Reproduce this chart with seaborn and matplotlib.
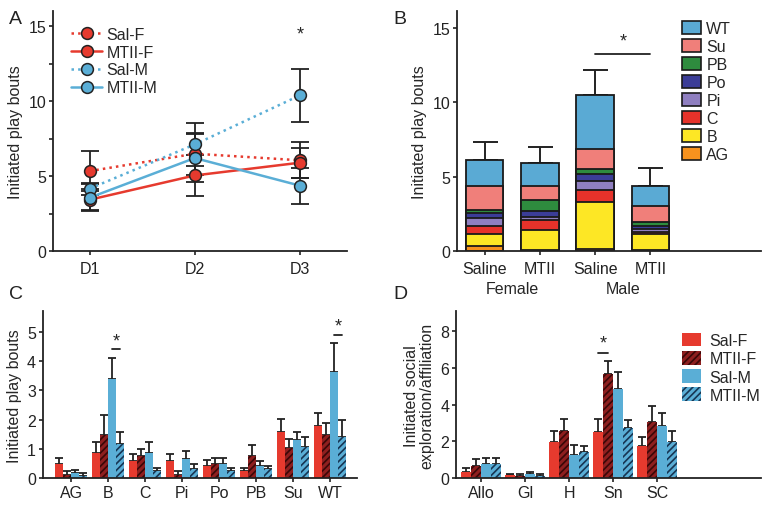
import numpy as np
import pandas as pd
import matplotlib
matplotlib.use('Agg')
import matplotlib.pyplot as plt
import seaborn as sns
from matplotlib.patches import Patch
from matplotlib.lines import Line2D
from matplotlib.ticker import MultipleLocator

sns.set_theme(style='ticks')
plt.rcParams['font.family'] = ['Liberation Sans', 'DejaVu Sans']
plt.rcParams['axes.linewidth'] = 1.3
plt.rcParams['hatch.linewidth'] = 1.2

RED = '#e63a2e'
BLUE = '#5aaed6'
DRED = '#8e1f1f'
NAVY = '#173553'

# ---- panel A data: play bouts over days
days = ['D1', 'D2', 'D3']
groups = ['Sal-F', 'MTII-F', 'Sal-M', 'MTII-M']
salf_mean = [5.33, 6.49, 6.05]
salf_err = [1.35, 1.4, 1.2]
mtiif_mean = [3.42, 5.04, 5.89]
mtiif_err = [0.7, 1.35, 1.0]
salm_mean = [4.16, 7.11, 10.38]
salm_err = [0.4, 1.42, 1.78]
mtiim_mean = [3.56, 6.2, 4.36]
mtiim_err = [0.9, 1.6, 1.2]

# ---- panel B data: stacked play types
treat_labels = ['Saline', 'MTII', 'Saline', 'MTII']
play_types = ['AG', 'B', 'C', 'Pi', 'Po', 'PB', 'Su', 'WT']
stack_salf = [0.36, 0.76, 0.54, 0.56, 0.36, 0.18, 1.59, 1.77]
stack_mtiif = [0.05, 1.38, 0.67, 0.16, 0.41, 0.76, 0.96, 1.53]
stack_salm = [0.15, 3.17, 0.78, 0.63, 0.45, 0.33, 1.35, 3.64]
stack_mtiim = [0.05, 1.07, 0.14, 0.22, 0.22, 0.27, 1.03, 1.39]
stack_err_top = [7.31, 6.97, 12.15, 5.56]
play_colors = ['#f7921e', '#fde725', '#e6322a', '#8f7fc0', '#3b3d97', '#2e8b3e', '#f07f7a', '#5aaad4']

# ---- panel C data: play types by group (mean, mean+sem)
c_salf = [0.5, 0.86, 0.58, 0.57, 0.40, 0.23, 1.59, 1.77]
c_salf_hi = [0.7, 1.24, 0.84, 0.84, 0.61, 0.35, 2.03, 2.23]
c_mtiif = [0.11, 1.49, 0.77, 0.11, 0.47, 0.76, 1.03, 1.49]
c_mtiif_hi = [0.24, 2.15, 1.01, 0.24, 0.70, 1.14, 1.34, 1.88]
c_salm = [0.16, 3.37, 0.86, 0.67, 0.48, 0.41, 1.30, 3.62]
c_salm_hi = [0.27, 4.09, 1.24, 0.94, 0.69, 0.58, 1.59, 4.60]
c_mtiim = [0.09, 1.18, 0.26, 0.32, 0.25, 0.32, 1.05, 1.39]
c_mtiim_hi = [0.19, 1.59, 0.36, 0.47, 0.36, 0.43, 1.40, 2.00]

# ---- panel D data: social exploration
social = ['Allo', 'Gl', 'H', 'Sn', 'SC']
d_salf = [0.36, 0.16, 1.95, 2.53, 1.76]
d_salf_hi = [0.56, 0.25, 2.55, 3.25, 2.27]
d_mtiif = [0.67, 0.13, 2.58, 5.69, 3.04]
d_mtiif_hi = [1.02, 0.25, 3.22, 6.40, 3.93]
d_salm = [0.80, 0.22, 1.29, 4.85, 2.82]
d_salm_hi = [1.09, 0.36, 1.82, 5.76, 3.53]
d_mtiim = [0.80, 0.13, 1.44, 2.71, 1.98]
d_mtiim_hi = [1.11, 0.22, 1.76, 3.16, 2.55]

fig = plt.figure(figsize=(7.68, 5.06), dpi=100)
axA = fig.add_axes([0.069, 0.502, 0.383, 0.474])
axB = fig.add_axes([0.595, 0.502, 0.396, 0.474])
axC = fig.add_axes([0.056, 0.053, 0.409, 0.330])
axD = fig.add_axes([0.594, 0.053, 0.397, 0.330])

FS = 11.5

def style_ax(ax):
    sns.despine(ax=ax)
    ax.tick_params(axis='both', length=3, width=1.2, labelsize=FS, pad=2, colors='#222222')
    ax.tick_params(axis='x', pad=4)
    for s in ax.spines.values():
        s.set_color('#222222')

# ---------------- A
series = [
    (salf_mean, salf_err, RED, ':'),
    (mtiif_mean, mtiif_err, RED, '-'),
    (salm_mean, salm_err, BLUE, ':'),
    (mtiim_mean, mtiim_err, BLUE, '-'),
]
xi = np.arange(len(days))
for m, e, c, ls in series:
    axA.errorbar(xi, m, yerr=e, fmt='none', ecolor='#222222', elinewidth=1.3, capsize=6.5, capthick=1.3, zorder=2)
for (m, e, c, ls), g in zip(series, groups):
    df = pd.DataFrame({'day': xi, 'val': m})
    sns.lineplot(data=df, x='day', y='val', ax=axA, color=c, linestyle=ls, linewidth=1.8,
                 marker='o', markersize=8.5, markeredgecolor='#222222', markeredgewidth=1.1, zorder=3)
axA.set_xlim(-0.35, 2.45)
axA.set_ylim(0, 16)
axA.set_xticks(xi)
axA.set_xticklabels(days)
axA.set_yticks([0, 5, 10, 15])
axA.yaxis.set_minor_locator(MultipleLocator(2.5))
axA.tick_params(axis='y', which='minor', length=3, width=1.2)
axA.set_xlabel('')
axA.set_ylabel('Initiated play bouts', fontsize=FS)
axA.text(2, 14.5, '*', ha='center', va='center', fontsize=13)
hA = [Line2D([0], [0], color=c, linestyle=ls, lw=1.8, marker='o', markersize=8.5,
             markeredgecolor='#222222', markeredgewidth=1.1) for _, _, c, ls in series]
axA.legend(hA, groups, loc='upper left', bbox_to_anchor=(0.03, 0.975), frameon=False,
           fontsize=FS, handlelength=1.9, labelspacing=0.18, handletextpad=0.3, borderaxespad=0.2)
style_ax(axA)

# ---------------- B
stack_df = pd.DataFrame([stack_salf, stack_mtiif, stack_salm, stack_mtiim], columns=play_types)
stack_df['bar'] = ['SF', 'MF', 'SM', 'MM']
cum = stack_df[play_types].cumsum(axis=1)
cum['bar'] = stack_df['bar']
xb = np.arange(4)
axB.errorbar(xb, cum['WT'], yerr=[np.zeros(4), np.array(stack_err_top) - cum['WT']],
             fmt='none', ecolor='#222222', elinewidth=1.4, capsize=9, capthick=1.4, zorder=0)
for ptype, col in zip(play_types[::-1], play_colors[::-1]):
    sns.barplot(data=cum, x='bar', y=ptype, ax=axB, color=col, width=0.68,
                edgecolor='#1a1a1a', linewidth=1.3, saturation=1, zorder=2)
axB.set_xlim(-0.5, 5.0)
axB.set_ylim(0, 16.1)
axB.set_yticks([0, 5, 10, 15])
axB.set_xticks(xb)
axB.set_xticklabels(treat_labels)
axB.set_xlabel('')
axB.set_ylabel('Initiated play bouts', fontsize=FS)
axB.text(0.5, -0.125, 'Female', transform=axB.get_xaxis_transform(), ha='center', va='top', fontsize=FS)
axB.text(2.5, -0.125, 'Male', transform=axB.get_xaxis_transform(), ha='center', va='top', fontsize=FS)
axB.plot([2, 3], [13.25, 13.25], color='#222222', lw=1.3)
axB.text(2.5, 14.1, '*', ha='center', va='center', fontsize=13)
hB = [Patch(facecolor=c, edgecolor='#1a1a1a', linewidth=1.2) for c in play_colors[::-1]]
axB.legend(hB, play_types[::-1], loc='upper left', bbox_to_anchor=(0.72, 0.985), frameon=False,
           fontsize=FS, handlelength=1.15, handleheight=0.9, labelspacing=0.18, handletextpad=0.35,
           borderaxespad=0)
style_ax(axB)

# ---------------- C / D grouped bars
face = {'Sal-F': RED, 'MTII-F': DRED, 'Sal-M': BLUE, 'MTII-M': BLUE}
hatch_col = {'MTII-F': '#3a0808', 'MTII-M': NAVY}

def grouped(ax, cats, means, highs, width):
    rows = []
    for g, m in zip(groups, means):
        for c, v in zip(cats, m):
            rows.append({'cat': c, 'group': g, 'val': v})
    df = pd.DataFrame(rows)
    sns.barplot(data=df, x='cat', y='val', hue='group', hue_order=groups, palette=face,
                ax=ax, width=width, saturation=1, linewidth=0, legend=False, zorder=2)
    centers = {}
    for g, cont, m, hi in zip(groups, ax.containers, means, highs):
        xs = np.array([b.get_x() + b.get_width() / 2 for b in cont])
        centers[g] = xs
        ax.errorbar(xs, m, yerr=[np.zeros(len(m)), np.array(hi) - np.array(m)], fmt='none',
                    ecolor='#222222', elinewidth=1.3, capsize=3, capthick=1.3, zorder=1)
        if g in hatch_col:
            for b in cont:
                b.set_hatch('/////')
                b.set_edgecolor(hatch_col[g])
                b.set_linewidth(0)
    ax.set_xlabel('')
    return centers

cC = grouped(axC, play_types, [c_salf, c_mtiif, c_salm, c_mtiim],
             [c_salf_hi, c_mtiif_hi, c_salm_hi, c_mtiim_hi], 0.86)
axC.set_xlim(-0.76, 7.73)
axC.set_ylim(0, 5.7)
axC.set_yticks([0, 1, 2, 3, 4, 5])
axC.set_ylabel('Initiated play bouts', fontsize=FS)
for k, yl in [(1, 4.4), (7, 4.9)]:
    x0, x1 = cC['Sal-M'][k], cC['MTII-M'][k]
    axC.plot([x0, x1], [yl, yl], color='#222222', lw=1.3)
    axC.text((x0 + x1) / 2, yl + 0.3, '*', ha='center', va='center', fontsize=13)
style_ax(axC)
axC.tick_params(axis='x', pad=2)

cD = grouped(axD, social, [d_salf, d_mtiif, d_salm, d_mtiim],
             [d_salf_hi, d_mtiif_hi, d_salm_hi, d_mtiim_hi], 0.9)
axD.set_xlim(-0.57, 6.36)
axD.set_ylim(0, 9.1)
axD.set_yticks([0, 2, 4, 6, 8])
axD.set_ylabel('Initiated social\nexploration/affiliation', fontsize=FS, linespacing=1.05)
x0, x1 = cD['Sal-F'][3], cD['MTII-F'][3]
axD.plot([x0, x1], [6.8, 6.8], color='#222222', lw=1.3)
axD.text((x0 + x1) / 2, 7.35, '*', ha='center', va='center', fontsize=13)
hD = []
for g in groups:
    if g in hatch_col:
        hD.append(Patch(facecolor=face[g], edgecolor=hatch_col[g], hatch='/////', linewidth=0))
    else:
        hD.append(Patch(facecolor=face[g], linewidth=0))
axD.legend(hD, groups, loc='upper left', bbox_to_anchor=(0.72, 0.91), frameon=False,
           fontsize=FS, handlelength=1.2, handleheight=0.95, labelspacing=0.18, handletextpad=0.5,
           borderaxespad=0)
style_ax(axD)
axD.tick_params(axis='x', pad=2)

for lab, x, y in [('A', 0.012, 0.978), ('B', 0.512, 0.978), ('C', 0.012, 0.435), ('D', 0.512, 0.435)]:
    fig.text(x, y, lab, fontsize=14, ha='left', va='top', color='#222222')

fig.savefig('out.png', dpi=100)
